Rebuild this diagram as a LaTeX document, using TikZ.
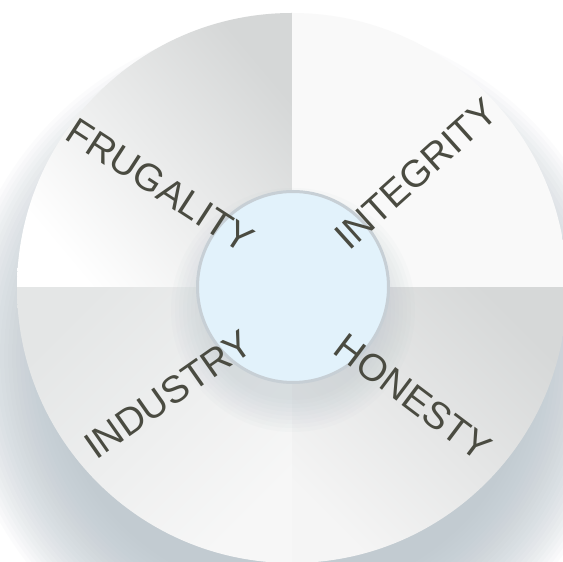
\documentclass[tikz,border=0pt]{standalone}
\usepackage{fontspec}
\setmainfont{Liberation Sans}
\definecolor{wordcol}{HTML}{4A4B41}
\definecolor{hubfill}{HTML}{E2F2FB}
\definecolor{hubrim}{HTML}{C7CFD5}
\definecolor{shadowcol}{HTML}{B4C0C8}
\definecolor{tlgray}{HTML}{D5D7D7}
\definecolor{trfill}{HTML}{F9F9F9}
\definecolor{brgray}{HTML}{D6D8D8}
\definecolor{blgray}{HTML}{E4E6E6}
\tikzset{word/.style={font=\fontsize{38}{40}\selectfont, text=wordcol, inner sep=0pt}}

\begin{document}
\begin{tikzpicture}[x=1pt,y=1pt]
\useasboundingbox (0,0) rectangle (563,562);
\clip (0,0) rectangle (563,562);
\fill[white] (0,0) rectangle (563,562);
\coordinate (O) at (292,274);
\coordinate (H) at (293,275);
% shadow under the wheel
\foreach \k in {0,...,24}
  \fill[shadowcol, opacity=0.05] (292,206) circle (240+4*\k);
\begin{scope}
\clip (O) circle (275);
\shade[top color=tlgray, bottom color=white, shading angle=-50] (O) rectangle ++(-275,275);
\fill[trfill] (O) rectangle ++(275,275);
\shade[top color=brgray, bottom color=white!96!black, shading angle=-45] (O) rectangle ++(275,-275);
\shade[top color=blgray, bottom color=white!97!black, shading angle=45] (O) rectangle ++(-275,-275);
% shadow of the hub
\foreach \k in {0,...,8}
  \fill[shadowcol, opacity=0.05] (293,252) circle (90+4*\k);
\end{scope}
\node[circle, fill=hubfill, draw=hubrim, line width=3pt, minimum size=191pt, inner sep=0pt] (hub) at (H) {};
\node[word, rotate=-33] (frugality) at (160.5,376.5) {FRUGALITY};
\node[word, rotate=42] (integrity) at (416,388) {INTEGRITY};
\node[word, rotate=35] (industry) at (168,167.5) {INDUSTRY};
\node[word, rotate=-37] (honesty) at (413,164.5) {HONESTY};
\end{tikzpicture}
\end{document}
